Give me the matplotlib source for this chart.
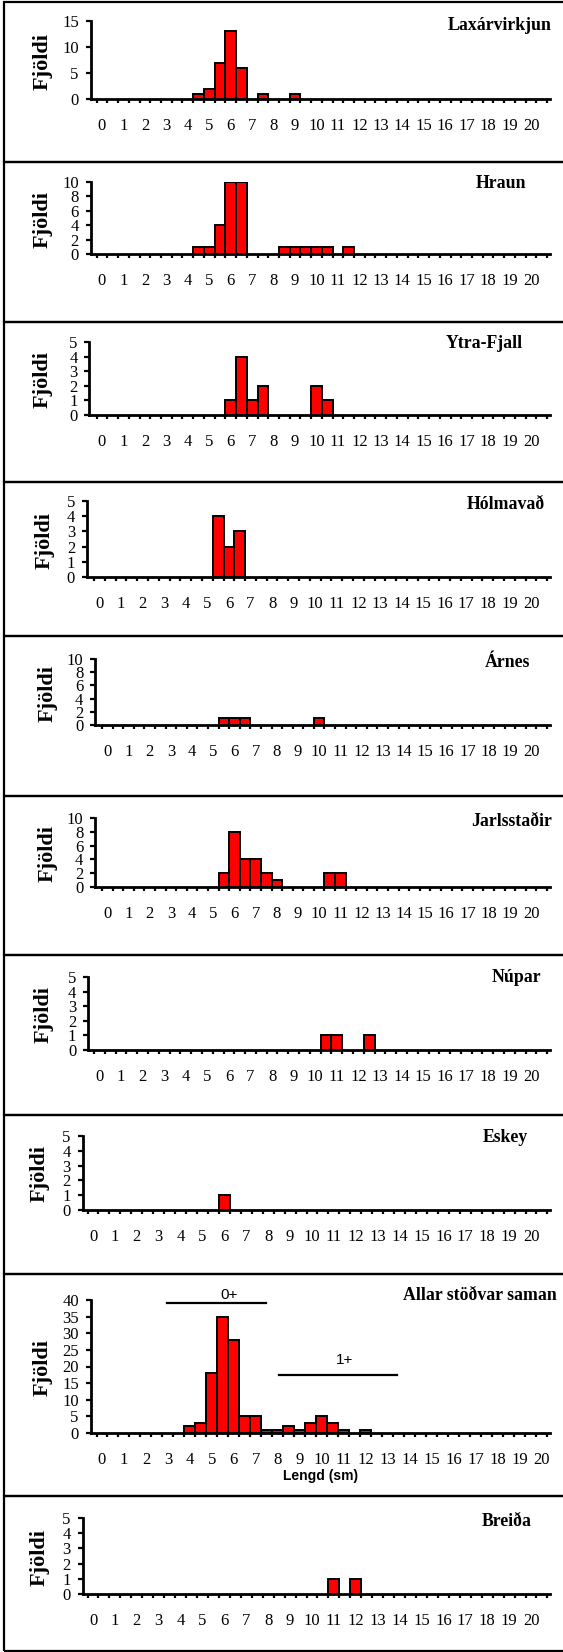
import numpy as np
import matplotlib.pyplot as plt
from matplotlib.patches import Rectangle
from matplotlib.lines import Line2D

W, H = 563, 1652
DPI = 100

# DATA: length class (sm) and count (Fjöldi) per station, zero classes left out
stations = ['Laxárvirkjun', 'Hraun', 'Ytra-Fjall', 'Hólmavað', 'Árnes',
            'Jarlsstaðir', 'Núpar', 'Eskey', 'Allar stöðvar saman', 'Breiða']

lengd_lax = [4.5, 5, 5.5, 6, 6.5, 7.5, 9]
fj_lax = [1, 2, 7, 13, 6, 1, 1]
lengd_hraun = [4.5, 5, 5.5, 6, 6.5, 8.5, 9, 9.5, 10, 10.5, 11.5]
fj_hraun = [1, 1, 4, 10, 10, 1, 1, 1, 1, 1, 1]
lengd_ytra = [6, 6.5, 7, 7.5, 10, 10.5]
fj_ytra = [1, 4, 1, 2, 2, 1]
lengd_holm = [5.5, 6, 6.5]
fj_holm = [4, 2, 3]
lengd_arnes = [5.5, 6, 6.5, 10]
fj_arnes = [1, 1, 1, 1]
lengd_jarl = [5.5, 6, 6.5, 7, 7.5, 8, 10.5, 11]
fj_jarl = [2, 8, 4, 4, 2, 1, 2, 2]
lengd_nupar = [10.5, 11, 12.5]
fj_nupar = [1, 1, 1]
lengd_eskey = [6]
fj_eskey = [1]
lengd_allar = [4, 4.5, 5, 5.5, 6, 6.5, 7, 7.5, 8, 8.5, 9, 9.5, 10, 10.5, 11, 12]
fj_allar = [2, 3, 18, 35, 28, 5, 5, 1, 1, 2, 1, 3, 5, 3, 1, 1]
lengd_breida = [11, 12]
fj_breida = [1, 1]

y_max = [15, 10, 5, 5, 10, 10, 5, 5, 40, 5]
y_step = [5, 2, 1, 1, 2, 2, 1, 1, 5, 1]
x_labels = [str(i) for i in range(21)]

lengd_all = [lengd_lax, lengd_hraun, lengd_ytra, lengd_holm, lengd_arnes,
             lengd_jarl, lengd_nupar, lengd_eskey, lengd_allar, lengd_breida]
fj_all = [fj_lax, fj_hraun, fj_ytra, fj_holm, fj_arnes,
          fj_jarl, fj_nupar, fj_eskey, fj_allar, fj_breida]

# LAYOUT (pixels)
ax_left = [90.7, 90.7, 89.5, 87, 95.4, 95.4, 88.2, 82.7, 90.7, 82.7]
zero_px = [102, 102, 102, 99.5, 107.4, 107.4, 99.5, 93, 102, 93]
twenty_px = [531] * 8 + [541.5, 531]
ax_right = 550
ax_top = [21, 182, 342, 501, 659, 818, 977, 1136, 1300, 1518]
ax_bot = [99, 254, 415, 577, 725, 887, 1050, 1210, 1433, 1594]
box_y = [2, 162, 322, 482, 636, 796, 955, 1115, 1274, 1496, 1651]
title_xy = [(500, 26), (500.5, 184), (484.5, 344), (506, 504), (507.5, 662),
            (512, 822), (516.5, 978), (505.5, 1138), (479.5, 1295), (506.5, 1522)]
ylab_x = [43, 43, 43, 45, 48, 48, 44, 40, 43, 40]

SERIF = 'Liberation Serif'
SANS = 'Liberation Sans'


def fx(px):
    return px / W


def fy(py):
    return 1 - py / H


def main():
    fig = plt.figure(figsize=(W / DPI, H / DPI), dpi=DPI)

    # panel boxes
    for i in range(10):
        fig.patches.append(Rectangle((fx(4), fy(box_y[i + 1])), fx(W + 10 - 4),
                                     (box_y[i + 1] - box_y[i]) / H,
                                     transform=fig.transFigure, fill=False,
                                     edgecolor='black', linewidth=1.6))

    for i in range(10):
        l, t, b = ax_left[i], ax_top[i], ax_bot[i]
        unit = (twenty_px[i] - zero_px[i]) / 20.0
        x0 = (l - zero_px[i]) / unit
        x1 = (ax_right - zero_px[i]) / unit

        ax = fig.add_axes([fx(l), fy(b), (ax_right - l) / W, (b - t) / H])
        ax.bar(lengd_all[i], fj_all[i], width=0.5, color='#FF0000',
               edgecolor='black', linewidth=1.4, zorder=3)

        ax.set_xlim(x0, x1)
        ax.set_ylim(0, y_max[i])
        ax.set_xticks(range(21))
        ax.set_xticklabels(x_labels, fontfamily=SERIF, fontsize=12)
        ax.set_xticks(np.arange(-0.25, x1, 0.5), minor=True)
        ax.tick_params(axis='x', which='major', length=0, pad=13.5)
        ax.tick_params(axis='x', which='minor', length=3.2, width=1.6,
                       direction='out')
        yt = np.arange(0, y_max[i] + 1, y_step[i])
        ax.set_yticks(yt)
        ax.set_yticklabels([str(v) for v in yt], fontfamily=SERIF, fontsize=12)
        ax.tick_params(axis='y', length=3.6, width=1.6, pad=5)

        for s in ['top', 'right']:
            ax.spines[s].set_visible(False)
        for s in ['left', 'bottom']:
            ax.spines[s].set_linewidth(2)
        ax.patch.set_alpha(0)

        fig.text(fx(ylab_x[i]), fy((t + b) / 2 + 1), 'Fjöldi', rotation=90,
                 ha='center', va='center', fontfamily=SERIF,
                 fontweight='bold', fontsize=16)
        tx, ty = title_xy[i]
        fig.text(fx(tx), fy(ty), stations[i], ha='center', va='center',
                 fontfamily=SERIF, fontweight='bold', fontsize=12.8)

        if i == 8:
            ax.set_xlabel('Lengd (sm)', fontfamily=SANS, fontweight='bold',
                          fontsize=10, labelpad=1)
            # age group markers
            ax.add_line(Line2D([2.98, 7.48], [39.1, 39.1], color='black',
                               linewidth=1.6, clip_on=False))
            ax.text(5.79, 41.5, '0+', ha='center', va='center',
                    fontfamily=SANS, fontsize=11, clip_on=False)
            ax.add_line(Line2D([8.04, 13.44], [17.4, 17.4], color='black',
                               linewidth=1.6, clip_on=False))
            ax.text(11.03, 22.0, '1+', ha='center', va='center',
                    fontfamily=SANS, fontsize=11)

    fig.savefig('out.png', dpi=DPI)


if __name__ == '__main__':
    main()
